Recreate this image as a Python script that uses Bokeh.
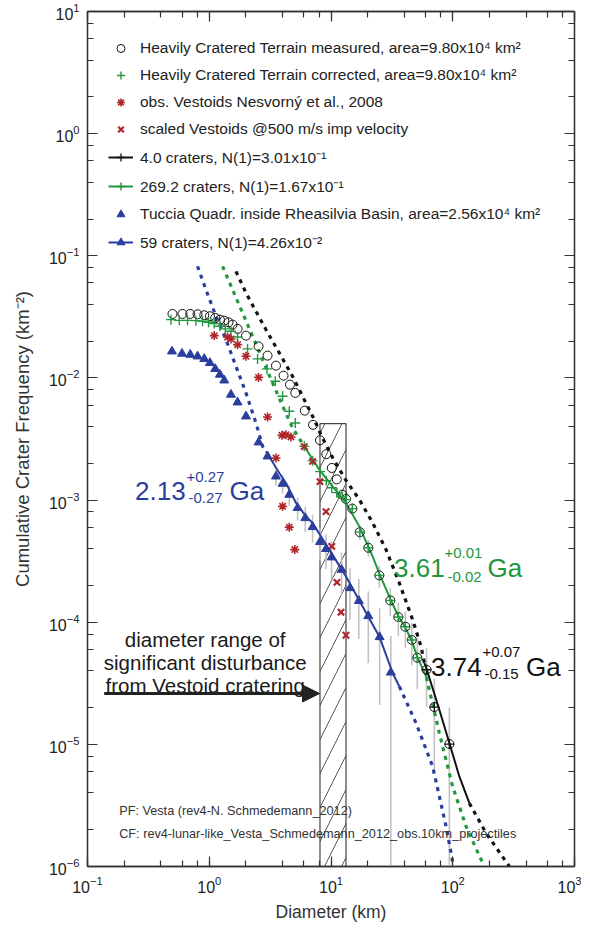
import numpy as np
from bokeh.plotting import figure
from bokeh.models import (LogAxis, LogTicker, Legend, LegendItem, Label, Arrow,
                          NormalHead, Range1d)
from bokeh.embed import file_html
from bokeh.resources import INLINE

FONT = "Liberation Sans"

# ---------------- data ----------------
x_lim = [0.1, 1000]
y_lim = [1e-6, 10]

# Heavily Cratered Terrain measured (open circles)
hct_meas_D = [0.499, 0.603, 0.698, 0.801, 0.910, 1.013, 1.12, 1.224, 1.328, 1.44, 1.555,
              1.708, 2.003, 2.542, 3.013, 3.532, 4.078, 4.603, 5.089, 6.09, 7.115, 8.12,
              9.15, 10.15, 11.16, 12.39, 13.28, 14.96, 17.25, 20.25, 24.94, 30.71, 35.73,
              40.79, 46.12, 51.18, 60.9, 70.6, 93.8]
hct_meas_N = [0.0334, 0.0334, 0.0334, 0.0332, 0.0326, 0.0320, 0.0310, 0.0300, 0.02945,
              0.02853, 0.02732, 0.0252, 0.0222, 0.01814, 0.01523, 0.01261, 0.01044, 0.00881,
              0.00754, 0.0054, 0.00413, 0.00309, 0.002376, 0.001832, 0.001477, 0.001107,
              0.001021, 8.51e-4, 5.46e-4, 4.07e-4, 2.417e-4, 1.508e-4, 1.103e-4, 9.19e-5,
              7.16e-5, 5.12e-5, 4.08e-5, 2.02e-5, 1.006e-5]

# Heavily Cratered Terrain corrected (green +)
hct_corr_D = [0.4845, 0.567, 0.663, 0.777, 0.881, 0.987, 1.099, 1.224, 1.353, 1.508, 1.708,
              2.064, 2.494, 2.98, 3.486, 4.003, 4.543, 5.089, 6.033, 7.06, 8.12, 9.15, 10.15,
              11.16, 12.39, 13.28, 14.96, 17.25, 20.25, 24.94, 30.71, 35.73, 40.79, 46.12, 51.18]
hct_corr_N = [0.0300, 0.02962, 0.02962, 0.02945, 0.02907, 0.02853, 0.02784, 0.02646, 0.0252,
              0.02408, 0.02166, 0.01728, 0.01431, 0.01185, 0.00938, 0.00707, 0.00533, 0.00428,
              0.002754, 0.002094, 0.001708, 0.001442, 0.001263, 0.00115, 0.001066, 0.001008,
              8.51e-4, 5.46e-4, 4.07e-4, 2.417e-4, 1.508e-4, 1.103e-4, 9.19e-5, 7.16e-5, 5.12e-5]

# observed Vestoids (red asterisks)
ves_obs_D = [1.099, 1.414, 1.508, 1.708, 2.003, 2.542, 3.013, 3.532, 3.957, 4.268, 4.692,
             4.003, 4.543, 5.04]
ves_obs_N = [0.0222, 0.02166, 0.02085, 0.01873, 0.01503, 0.0101, 0.00479, 0.002212,
             0.003388, 0.003432, 0.003287, 8.88e-4, 6.0e-4, 3.93e-4]

# scaled Vestoids (red x)
ves_scl_D = [6.03, 7.06, 8.12, 9.10, 10.15, 11.2, 12.08, 13.28]
ves_scl_N = [0.002738, 0.002075, 0.001415, 8.04e-4, 4.18e-4, 2.12e-4, 1.208e-4, 7.82e-5]

# Tuccia Quadrangle inside Rheasilvia (blue triangles)
tuc_D = [0.494, 0.597, 0.698, 0.801, 0.910, 1.013, 1.12, 1.224, 1.328, 1.508, 1.708, 2.003,
         2.542, 3.013, 3.532, 4.003, 4.543, 5.316, 6.15, 7.06, 8.12, 9.10, 10.11, 12.22,
         14.32, 16.92, 20.25, 25.08, 31.0]
tuc_N = [0.01651, 0.01581, 0.01551, 0.01503, 0.01431, 0.01327, 0.01185, 0.01064, 0.00955,
         0.0073, 0.00631, 0.00485, 0.00297, 0.00228, 0.001563, 0.001362, 0.001107, 8.62e-4,
         7.13e-4, 6.02e-4, 4.54e-4, 3.98e-4, 3.40e-4, 2.69e-4, 1.905e-4, 1.494e-4, 1.124e-4,
         7.56e-5, 3.88e-5]

# crater counts used for the 4.0-crater fit (black +)
fit4_D = [60.9, 70.6, 93.8]
fit4_N = [4.08e-5, 2.02e-5, 1.006e-5]

# error bars (grey)
err_D = [14.96, 17.25, 20.25, 24.94, 30.71, 35.73, 40.79, 46.12, 51.18, 60.9, 70.6, 93.8,
         3.532, 4.003, 4.543, 5.316, 6.15, 7.06, 8.12, 9.10, 10.11, 12.22, 14.32, 16.92,
         20.25, 25.08, 31.0]
err_lo = [7.58e-4, 4.71e-4, 3.43e-4, 1.92e-4, 1.116e-4, 7.68e-5, 6.13e-5, 4.45e-5, 2.83e-5,
          2.04e-5, 5.9e-6, 1e-9,
          1.316e-3, 1.13e-3, 8.99e-4, 6.78e-4, 5.46e-4, 4.49e-4, 3.21e-4, 2.73e-4, 2.25e-4,
          1.67e-4, 1.044e-4, 7.29e-5, 4.62e-5, 2.1e-5, 1e-9]
err_hi = [9.44e-4, 6.21e-4, 4.71e-4, 2.91e-4, 1.9e-4, 1.44e-4, 1.225e-4, 9.87e-5, 7.41e-5,
          6.12e-5, 3.45e-5, 2.01e-5,
          1.81e-3, 1.59e-3, 1.315e-3, 1.046e-3, 8.8e-4, 7.56e-4, 5.87e-4, 5.23e-4, 4.55e-4,
          3.71e-4, 2.77e-4, 2.26e-4, 1.79e-4, 1.3e-4, 7.76e-5]

# isochrons (production function fits)
iso_black_D = [1.657, 2.003, 2.419, 2.923, 3.76, 4.836, 6.03, 7.29, 8.27, 10.3, 13.28, 17.08,
               21.97, 28.31, 36.41, 46.83, 54.89, 58.4, 61.24, 77.6, 93.8, 113.3, 136.9,
               187.8, 291.9]
iso_black_N = [0.0746, 0.0497, 0.0351, 0.02487, 0.01603, 0.0103, 0.00664, 0.00456, 0.00343,
               0.002225, 0.00145, 0.00101, 6.53e-4, 3.93e-4, 2.095e-4, 1.048e-4, 6.34e-5,
               4.66e-5, 4.08e-5, 1.92e-5, 1.025e-5, 5.46e-6, 3.3e-6, 1.877e-6, 1.0e-6]
iso_black_fit = [58.4, 136.9]

iso_green_D = [1.286, 1.555, 1.878, 2.269, 2.742, 3.313, 4.133, 4.836, 6.03, 8.01, 10.3,
               13.28, 17.08, 21.97, 24.94, 30.71, 35.73, 40.79, 46.12, 51.18, 60.7, 77.6,
               99.8, 128.6, 176.1]
iso_green_N = [0.082, 0.0528, 0.03406, 0.0219, 0.01412, 0.0091, 0.0055, 0.0039, 0.002754,
               0.001774, 0.001295, 9.47e-4, 6.09e-4, 3.46e-4, 2.5e-4, 1.55e-4, 1.12e-4,
               9.1e-5, 7.0e-5, 5.2e-5, 3.55e-5, 1.238e-5, 4.52e-6, 2.13e-6, 1.066e-6]
iso_green_fit = [6.03, 60.7]

iso_blue_D = [0.801, 0.9395, 1.135, 1.372, 1.657, 2.003, 2.419, 2.742, 2.923, 3.76, 4.268,
              5.158, 6.23, 7.06, 9.68, 13.28, 18.18, 24.94, 32.08, 36.41, 49.94, 68.37,
              88.1, 99.8]
iso_blue_N = [0.082, 0.0528, 0.032, 0.0206, 0.01245, 0.00754, 0.00428, 0.002754, 0.002506,
              0.001667, 0.00138, 9.47e-4, 7.35e-4, 6.5e-4, 3.93e-4, 2.37e-4, 1.347e-4,
              7.65e-5, 3.84e-5, 2.98e-5, 1.494e-5, 6.59e-6, 2.13e-6, 1.1e-6]
iso_blue_fit = [2.923, 36.41]

# hatched diameter range of Vestoid disturbance
band_D = [8.12, 13.28]
band_top = 4.22e-3

legend_labels = [
    "Heavily Cratered Terrain measured, area=9.80x10\u2074 km\u00b2",
    "Heavily Cratered Terrain corrected, area=9.80x10\u2074 km\u00b2",
    "obs. Vestoids Nesvorn\u00fd et al., 2008",
    "scaled Vestoids @500 m/s imp velocity",
    "4.0 craters, N(1)=3.01x10\u207b\u00b9",
    "269.2 craters, N(1)=1.67x10\u207b\u00b9",
    "Tuccia Quadr. inside Rheasilvia Basin, area=2.56x10\u2074 km\u00b2",
    "59 craters, N(1)=4.26x10\u207b\u00b2",
]

BLACK = "#111111"
GREEN = "#22973f"
RED = "#b0252a"
BLUE = "#2b3e9e"
GREY = "#c2c2c2"

# ---------------- figure ----------------
p = figure(x_axis_type="log", y_axis_type="log",
           x_range=Range1d(*x_lim), y_range=Range1d(*y_lim),
           frame_width=487, frame_height=855,
           min_border_left=87, min_border_top=11, min_border_right=7, min_border_bottom=56,
           output_backend="svg", toolbar_location=None)
p.background_fill_color = "white"
p.border_fill_color = "white"
p.outline_line_color = "#333333"
p.outline_line_width = 1.3
p.xgrid.visible = False
p.ygrid.visible = False


def style_axis(ax, labels=True):
    ax.axis_line_color = "#333333"
    ax.axis_line_width = 1.3
    ax.major_tick_in = 10
    ax.major_tick_out = 0
    ax.minor_tick_in = 6
    ax.minor_tick_out = 0
    ax.major_tick_line_color = "#333333"
    ax.minor_tick_line_color = "#333333"
    ax.major_tick_line_width = 1.2
    ax.minor_tick_line_width = 1.2
    ax.major_label_text_font = FONT
    ax.major_label_text_font_size = "16px"
    ax.major_label_text_color = "#222222"
    ax.axis_label_text_font = FONT
    ax.axis_label_text_font_style = "normal"
    ax.axis_label_text_color = "#333333"
    if not labels:
        ax.major_label_text_font_size = "1px"
        ax.major_label_text_color = None
        ax.major_label_standoff = 0


p.xaxis.ticker = LogTicker(desired_num_ticks=5)
p.yaxis.ticker = LogTicker(desired_num_ticks=8)
style_axis(p.xaxis[0])
style_axis(p.yaxis[0])
p.xaxis.axis_label = "Diameter (km)"
p.xaxis.axis_label_text_font_size = "17.5px"
p.xaxis.major_label_standoff = 9
p.xaxis.axis_label_standoff = 6
p.yaxis.axis_label = "Cumulative Crater Frequency (km\u207b\u00b2)"
p.yaxis.axis_label_text_font_size = "18.5px"
p.yaxis.major_label_standoff = 8
p.yaxis.axis_label_standoff = 13

top_ax = LogAxis(ticker=LogTicker(desired_num_ticks=5))
right_ax = LogAxis(ticker=LogTicker(desired_num_ticks=8))
style_axis(top_ax, labels=False)
style_axis(right_ax, labels=False)
p.add_layout(top_ax, "above")
p.add_layout(right_ax, "right")

# hatched band
p.quad(left=[band_D[0]], right=[band_D[1]], bottom=[y_lim[0]], top=[band_top],
       fill_color=None, line_color="#444444", line_width=1.2,
       hatch_pattern="/", hatch_color="#444444", hatch_scale=34, hatch_weight=0.9)

# error bars
p.segment(x0=err_D, y0=err_lo, x1=err_D, y1=err_hi, line_color=GREY, line_width=1.6)


def draw_iso(D, N, fit, color):
    D = np.array(D); N = np.array(N)
    lo = D <= fit[0]
    mid = (D >= fit[0]) & (D <= fit[1])
    hi = D >= fit[1]
    p.line(D[lo], N[lo], line_color=color, line_width=3.2, line_dash="4 5")
    p.line(D[hi], N[hi], line_color=color, line_width=3.2, line_dash="4 5")
    return p.line(D[mid], N[mid], line_color=color, line_width=2)


r_iso_black = draw_iso(iso_black_D, iso_black_N, iso_black_fit, BLACK)
r_iso_green = draw_iso(iso_green_D, iso_green_N, iso_green_fit, GREEN)
r_iso_blue = draw_iso(iso_blue_D, iso_blue_N, iso_blue_fit, BLUE)

r_meas = p.scatter(hct_meas_D, hct_meas_N, marker="circle", size=9, fill_color=None,
                   line_color=BLACK, line_width=1)
r_corr = p.scatter(hct_corr_D, hct_corr_N, marker="cross", size=10, line_color=GREEN,
                   line_width=1.4)
r_fit4 = p.scatter(fit4_D, fit4_N, marker="cross", size=10, line_color=BLACK, line_width=1.3)
r_vobs = p.scatter(ves_obs_D, ves_obs_N, marker="asterisk", size=9, line_color=RED,
                   line_width=1.6)
r_vscl = p.scatter(ves_scl_D, ves_scl_N, marker="x", size=9, line_color=RED, line_width=2.2)
r_tuc = p.scatter(tuc_D, tuc_N, marker="triangle", size=9, fill_color=BLUE, line_color=BLUE)

LEG_ROW, LEG_GAP = 20, 7
legend = Legend(items=[
    LegendItem(label=legend_labels[0], renderers=[r_meas]),
    LegendItem(label=legend_labels[1], renderers=[r_corr]),
    LegendItem(label=legend_labels[2], renderers=[r_vobs]),
    LegendItem(label=legend_labels[3], renderers=[r_vscl]),
    LegendItem(label=legend_labels[4], renderers=[r_iso_black, r_fit4]),
    LegendItem(label=legend_labels[5], renderers=[r_iso_green, r_corr]),
    LegendItem(label=legend_labels[6], renderers=[r_tuc]),
    LegendItem(label=legend_labels[7], renderers=[r_iso_blue, r_tuc]),
], location=(21, 822 - (8 * LEG_ROW + 7 * LEG_GAP)), padding=0, margin=0,
   spacing=LEG_GAP, label_height=LEG_ROW, glyph_height=LEG_ROW, glyph_width=25,
   label_standoff=7,
   label_text_font=FONT, label_text_font_size="15.5px", label_text_color="#222222",
   border_line_color=None, background_fill_alpha=0)
p.add_layout(legend)


def lab(text, x, y, size, color, align="left"):
    p.add_layout(Label(x=x, y=y, x_units="screen", y_units="screen", text=text,
                       text_font=FONT, text_font_size=size, text_color=color,
                       text_align=align, text_baseline="alphabetic"))


# ages
lab("2.13", 47.5, 376, "26px", BLUE)
lab("+0.27", 99, 390, "15px", BLUE)
lab("-0.27", 101, 369, "15px", BLUE)
lab("Ga", 142, 376, "26px", BLUE)

lab("3.61", 306.5, 299, "26px", GREEN)
lab("+0.01", 357, 314, "15px", GREEN)
lab("-0.02", 360, 290, "15px", GREEN)
lab("Ga", 400, 299, "26px", GREEN)

lab("3.74", 343.5, 200, "26px", BLACK)
lab("+0.07", 395, 215, "15px", BLACK)
lab("-0.15", 397, 193, "15px", BLACK)
lab("Ga", 438.5, 200, "26px", BLACK)

# disturbance annotation
lab("diameter range of", 117.7, 227, "20.5px", "#1a1a1a", "center")
lab("significant disturbance", 117.7, 204, "20.5px", "#1a1a1a", "center")
lab("from Vestoid cratering", 117.7, 181.5, "20.5px", "#1a1a1a", "center")
p.add_layout(Arrow(x_start=16.7, y_start=173, x_end=232, y_end=173,
                   start_units="screen", end_units="screen",
                   line_color="#222222", line_width=3,
                   end=NormalHead(size=17, fill_color="#222222", line_color="#222222")))

lab("PF: Vesta (rev4-N. Schmedemann_2012)", 31.7, 55.5, "12.7px", "#333333")
lab("CF: rev4-lunar-like_Vesta_Schmedemann_2012_obs.10km_projectiles", 31.7, 32.5,
    "12.7px", "#333333")

open("out.html", "w").write(file_html(p, INLINE))
